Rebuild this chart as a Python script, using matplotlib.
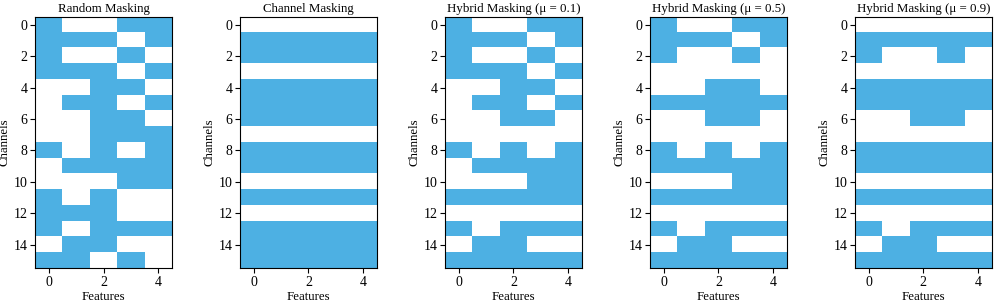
import numpy as np
import matplotlib
matplotlib.use("Agg")
import matplotlib.pyplot as plt
from matplotlib.colors import ListedColormap

plt.rcParams['font.family'] = ['Liberation Serif', 'DejaVu Serif']

titles = ['Random Masking', 'Channel Masking', 'Hybrid Masking (μ = 0.1)',
          'Hybrid Masking (μ = 0.5)', 'Hybrid Masking (μ = 0.9)']

# 16 channels x 5 features, 1 = masked (blue)
random_mask = [
    [1, 0, 0, 1, 1], [1, 1, 1, 0, 1], [1, 0, 0, 1, 0], [1, 1, 1, 0, 1],
    [0, 0, 1, 1, 0], [0, 1, 1, 0, 1], [0, 0, 1, 1, 0], [0, 0, 1, 1, 1],
    [1, 0, 1, 0, 1], [0, 1, 1, 1, 1], [0, 0, 0, 1, 1], [1, 0, 1, 0, 0],
    [1, 1, 1, 0, 0], [1, 0, 1, 1, 1], [0, 1, 1, 0, 0], [1, 1, 0, 1, 0],
]
channel_rows = [0, 1, 1, 0, 1, 1, 1, 0, 1, 1, 0, 1, 0, 1, 1, 1]
hybrid_01 = [
    [1, 0, 0, 1, 1], [1, 1, 1, 0, 1], [1, 0, 0, 1, 0], [1, 1, 1, 0, 1],
    [0, 0, 1, 1, 0], [0, 1, 1, 0, 1], [0, 0, 1, 1, 0], [0, 0, 0, 0, 0],
    [1, 0, 1, 0, 1], [0, 1, 1, 1, 1], [0, 0, 0, 1, 1], [1, 1, 1, 1, 1],
    [0, 0, 0, 0, 0], [1, 0, 1, 1, 1], [0, 1, 1, 0, 0], [1, 1, 1, 1, 1],
]
hybrid_05 = [
    [1, 0, 0, 1, 1], [1, 1, 1, 0, 1], [1, 0, 0, 1, 0], [0, 0, 0, 0, 0],
    [0, 0, 1, 1, 0], [1, 1, 1, 1, 1], [0, 0, 1, 1, 0], [0, 0, 0, 0, 0],
    [1, 0, 1, 0, 1], [1, 1, 1, 1, 1], [0, 0, 0, 1, 1], [1, 1, 1, 1, 1],
    [0, 0, 0, 0, 0], [1, 0, 1, 1, 1], [0, 1, 1, 0, 0], [1, 1, 1, 1, 1],
]
hybrid_09 = [
    [0, 0, 0, 0, 0], [1, 1, 1, 1, 1], [1, 0, 0, 1, 0], [0, 0, 0, 0, 0],
    [1, 1, 1, 1, 1], [1, 1, 1, 1, 1], [0, 0, 1, 1, 0], [0, 0, 0, 0, 0],
    [1, 1, 1, 1, 1], [1, 1, 1, 1, 1], [0, 0, 0, 0, 0], [1, 1, 1, 1, 1],
    [0, 0, 0, 0, 0], [1, 0, 1, 1, 1], [0, 1, 1, 0, 0], [1, 1, 1, 1, 1],
]
channel_mask = np.repeat(np.array(channel_rows)[:, None], 5, axis=1)

masks = [random_mask, channel_mask, hybrid_01, hybrid_05, hybrid_09]
cmap = ListedColormap(['white', '#4DB0E3'])

fig, axes = plt.subplots(1, 5, figsize=(9.96, 3.04), dpi=100)
fig.subplots_adjust(left=0.0355, right=0.9955, bottom=0.118, top=0.944, wspace=0.503)

for ax, mask, title in zip(axes, masks, titles):
    ax.imshow(np.array(mask), cmap=cmap, vmin=0, vmax=1, aspect='auto',
              interpolation='nearest')
    ax.set_title(title, fontsize=9.3, pad=3.5)
    ax.set_xlabel('Features', fontsize=9.3, labelpad=1.5)
    ax.set_ylabel('Channels', fontsize=9.3, labelpad=2)
    ax.set_xticks([0, 2, 4])
    ax.set_yticks(range(0, 16, 2))
    ax.tick_params(labelsize=10, pad=2)

fig.savefig('out.png', dpi=100)
